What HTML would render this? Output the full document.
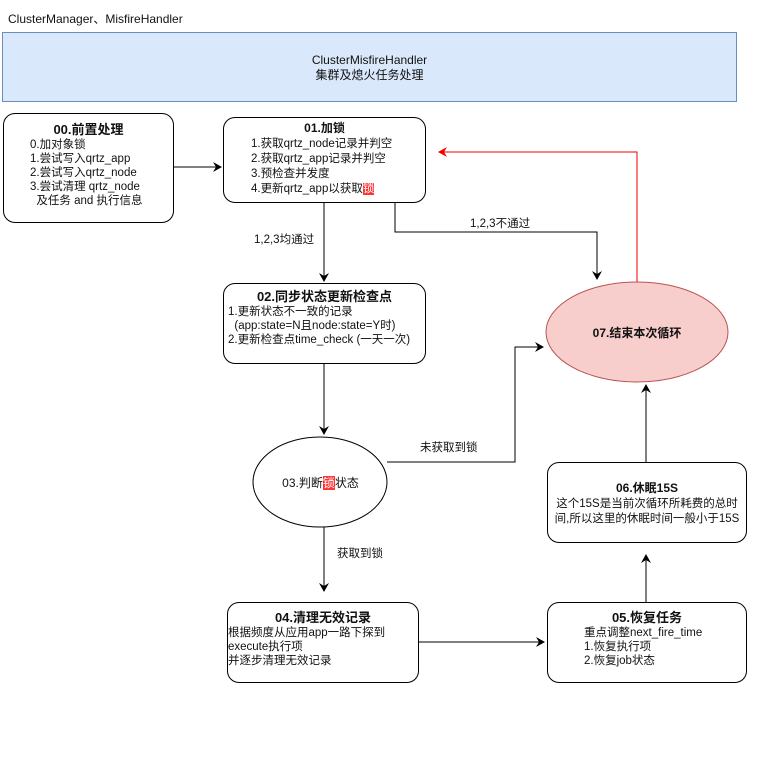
<!DOCTYPE html>
<html><head><meta charset="utf-8"><style>
body{margin:0;width:775px;height:776px;background:#fff;position:relative;font-family:"Liberation Sans","Noto Sans CJK SC",sans-serif;color:#111;font-size:11.5px;overflow:hidden}
.a{position:absolute}
.box{position:absolute;border:1px solid #000;border-radius:12px;background:#fff;box-sizing:border-box}
b{font-size:13px}
.r{background:#f33;color:#fff}
</style></head><body>
<div class="a" style="left:8px;top:10px;font-size:12px">ClusterManager、MisfireHandler</div>
<div class="a" style="left:2px;top:32px;width:735px;height:70px;background:#dae8fc;border:1px solid #6c8ebf;box-sizing:border-box;text-align:center;padding-top:20px;line-height:15px;font-size:12px">ClusterMisfireHandler<br>集群及熄火任务处理</div>
<svg class="a" style="left:0;top:0" width="775" height="776">
<defs>
<marker id="k" markerWidth="10" markerHeight="10" refX="8" refY="5" orient="auto" markerUnits="userSpaceOnUse"><path d="M0,0 L9,5 L0,10 L3,5z" fill="#000"/></marker>
<marker id="rd" markerWidth="10" markerHeight="10" refX="8" refY="5" orient="auto" markerUnits="userSpaceOnUse"><path d="M0,0 L9,5 L0,10 L3,5z" fill="#e00"/></marker>
</defs>
<g fill="none" stroke="#000" stroke-width="1">
<path d="M173,167 H221" marker-end="url(#k)"/>
<path d="M324,202 V281" marker-end="url(#k)"/>
<path d="M395,202 V232 H597 V279" marker-end="url(#k)"/>
<path d="M324,363 V434" marker-end="url(#k)"/>
<path d="M387,462 H515 V347 H543" marker-end="url(#k)"/>
<path d="M324,527 V591" marker-end="url(#k)"/>
<path d="M418,642 H544" marker-end="url(#k)"/>
<path d="M646,602 V555" marker-end="url(#k)"/>
<path d="M646,462 V385" marker-end="url(#k)"/>
</g>
<path d="M637,282 V152 H439" fill="none" stroke="#e00" marker-end="url(#rd)"/>
<ellipse cx="637" cy="332" rx="91" ry="50" fill="#f8cecc" stroke="#b85450"/>
<ellipse cx="320" cy="482" rx="67" ry="45" fill="#fff" stroke="#000"/>
</svg>
<div class="a" style="left:254px;top:231px">1,2,3均通过</div>
<div class="a" style="left:470px;top:215px">1,2,3不通过</div>
<div class="a" style="left:420px;top:439px">未获取到锁</div>
<div class="a" style="left:337px;top:545px">获取到锁</div>
<div class="a" style="left:546px;top:324px;width:182px;text-align:center;font-size:12px;font-weight:bold">07.结束本次循环</div>
<div class="a" style="left:253px;top:474px;width:135px;text-align:center;font-size:12px">03.判断<span class="r">锁</span>状态</div>
<div class="box" style="left:3px;top:113px;width:171px;height:110px;padding:9px 0 0 26px;line-height:14px"><div style="text-align:center;margin-left:-26px"><b>00.前置处理</b></div>0.加对象锁<br>1.尝试写入qrtz_app<br>2.尝试写入qrtz_node<br>3.尝试清理 qrtz_node<br>&nbsp;&nbsp;及任务 and 执行信息</div>
<div class="box" style="left:223px;top:117px;width:203px;height:86px;padding:3px 0 0 27px;line-height:15px"><div style="text-align:center;margin-left:-27px"><b style="font-size:12px">01.加锁</b></div>1.获取qrtz_node记录并判空<br>2.获取qrtz_app记录并判空<br>3.预检查并发度<br>4.更新qrtz_app以获取<span class="r">锁</span></div>
<div class="box" style="left:223px;top:283px;width:203px;height:81px;padding:6px 0 0 4px;line-height:14px"><div style="text-align:center;margin-left:-4px"><b>02.同步状态更新检查点</b></div>1.更新状态不一致的记录<br>&nbsp;&nbsp;(app:state=N且node:state=Y时)<br>2.更新检查点time_check (一天一次)</div>
<div class="box" style="left:227px;top:602px;width:192px;height:81px;padding:8px 0 0 0;line-height:14px"><div style="text-align:center"><b>04.清理无效记录</b></div>根据频度从应用app一路下探到<br>execute执行项<br>并逐步清理无效记录</div>
<div class="box" style="left:547px;top:602px;width:200px;height:81px;padding:8px 0 0 36px;line-height:14px"><div style="text-align:center;margin-left:-36px"><b>05.恢复任务</b></div>重点调整next_fire_time<br>1.恢复执行项<br>2.恢复job状态</div>
<div class="box" style="left:547px;top:462px;width:200px;height:81px;padding:18px 0 0 0;line-height:15px;text-align:center"><b style="font-size:12px">06.休眠15S</b><br>这个15S是当前次循环所耗费的总时<br>间,所以这里的休眠时间一般小于15S</div>
</body></html>
